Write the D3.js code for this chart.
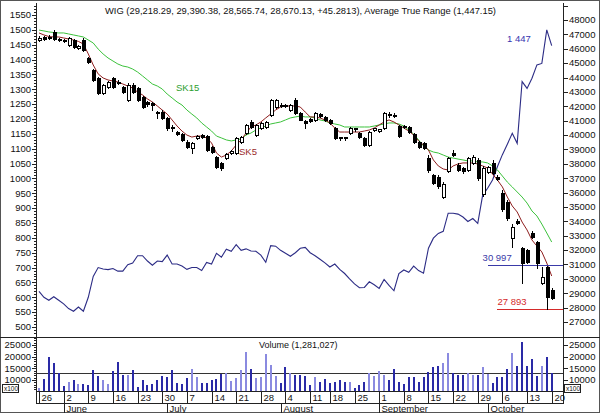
<!DOCTYPE html>
<html><head><meta charset="utf-8">
<script src="https://cdn.jsdelivr.net/npm/d3@7"></script>
<style>body{margin:0;background:#fff}svg{display:block}</style>
</head><body><svg id="c" width="600" height="413"></svg>
<script>
const titleText = "WIG (29,218.29, 29,390.38, 28,565.74, 28,670.13, +45.2813), Average True Range (1,447.15)";
const volumeTitle = "Volume (1,281,027)";
const startDate = [2008, 4, 26], endDate = [2008, 9, 20];
const holidays = ["2008-08-15"];
const monthNames = ["January","February","March","April","May","June","July","August","September","October","November","December"];

const open = [46610,46820,46850,47170,46710,46640,46260,46610,46050,46610, 45360,44520,43970,42920,43340,43970,43720,43340,42440,43480, 43270,42650,42300,42230,41600,41600,41190,40560,40210,40070, 39520,39100,39800,40000,39930,39170,38470,38060,38400,38750, 38750,39520,40140,40910,40000,40490,40560,41390,41950,42090, 42090,41740,42440,41530,40980,41120,41050,41460,41260,41050, 40490,39860,39860,40140,40460,40140,39800,39310,40350,40280, 40490,41460,41390,40630,40630,40560,40070,39520,39450,38400, 37220,37080,35690,37500,38750,37920,37710,37570,38060,38270, 35900,37430,38060,37080,35970,35340,32840,34020,32150,32010, 33190,32560,29710,30820,29218.29];
const high = [46890,46890,46960,47300,46750,46680,46820,46680,46260,46750, 45430,44590,44040,43550,43760,44040,43830,43410,43620,43620, 43340,42720,42370,42300,41670,41740,41260,40700,40280,40140, 39660,39520,40000,40070,40000,39240,38540,38130,38750,38960, 39860,39930,40770,41050,40770,40910,40980,42510,42510,42230, 42160,42160,42580,41600,41050,41190,41600,41530,41320,41120, 40560,39860,39860,40560,40490,40210,39860,40280,40490,40420, 41600,41600,41530,40700,40700,40630,40140,39590,39520,38610, 37290,37220,36740,38470,38960,38060,37780,38470,38610,38400, 37850,37850,38270,37220,36180,35480,33810,34160,32220,32080, 33330,32630,30820,30890,29390.38];
const low = [46540,46610,46680,46610,46540,46470,46190,46050,45980,45840, 45010,43760,42850,42850,43270,43270,43550,42920,42370,42920, 42370,41880,42020,41740,41190,41120,40350,40280,40000,39590, 39100,38750,39730,39800,38890,38750,37710,37570,38330,38680, 38680,39450,40070,40490,39930,40420,40490,41320,41880,41950, 41950,41670,41460,41050,40490,40910,40980,41260,40980,40770, 39730,39660,39660,40070,40280,39800,39240,39240,40280,40210, 40420,41260,41260,39860,40490,40140,39450,39100,39030,37430, 36600,36320,35620,37430,38540,37500,37360,37500,37990,36870, 35760,37360,37290,36870,34720,34090,32220,33810,29710,31100, 32840,30750,29640,27893,28565.74];
const close = [46750,46710,46780,46680,46640,46570,46750,46120,46190,45910, 45080,43830,42920,43480,43690,43340,43620,42990,43480,42990, 42440,41950,42160,42090,41530,41190,40490,40490,40070,39660, 39170,39450,39930,39860,38960,38820,37780,37710,38680,38890, 39800,39860,40700,40560,40700,40840,40910,42440,42440,42020, 42020,42090,41530,41080,40840,40980,41530,41320,41050,40840, 39800,39830,39830,40490,40390,39860,39310,40210,40460,40390, 41530,41390,41320,39930,40560,40210,39520,39170,39100,37570, 36670,36460,36600,38400,38610,37570,37500,38400,38470,37010, 37710,37780,37360,36940,34860,34230,33610,33880,31100,31170, 32910,31100,30130,28740,28670.13];
const sk15 = [47300,47240,47170,47130,47100,47100,47030,46960,46890,46820, 46610,46400,45980,45640,45360,45150,44940,44800,44730,44590, 44380,44110,43830,43550,43410,43200,42850,42580,42300,42090, 41740,41460,41190,40840,40560,40280,39930,39800,39660,39590, 39660,39730,40000,40140,40350,40490,40630,40770,40840,40910, 41050,41190,41260,41320,41260,41260,41190,41050,40980,40840, 40770,40700,40560,40560,40560,40560,40560,40560,40630,40700, 40770,40840,40840,40770,40630,40350,40070,39660,39240,38960, 38820,38750,38610,38470,38400,38330,38270,38200,38200,38130, 38130,38060,37850,37570,37150,36730,36390,36040,35690,35270, 34720,34370,33810,33190,32560];
const sk5 = [47100,46960,46850,46820,46820,46750,46680,46610,46510,46330, 45640,44870,44250,43970,43830,43760,43690,43550,43410,43270, 42990,42790,42510,42300,42020,41740,41460,41050,40630,40280, 40000,39860,39930,39930,39800,39450,38750,38470,38610,38890, 39310,39660,40140,40560,40700,40910,41190,41460,41740,41950, 42020,42020,42020,41950,41600,41260,41260,41190,41050,40840, 40490,40210,40210,40210,40210,40210,40280,40350,40490,40700, 40910,41050,40910,40700,40490,40280,40000,39590,39310,38960, 38270,37850,37640,37570,37850,37990,38060,38060,38060,37990, 37850,37710,37290,36870,36390,35690,35070,34650,33950,33400, 32700,32280,31870,31100,30200];
const atr = [620,600,590,602,590,578,562,553,567,553, 600,670,700,695,693,697,688,688,710,715, 740,740,722,708,722,720,742,712,712,705, 694,700,700,690,717,712,748,735,762,755, 777,758,763,756,755,742,718,774,772,758, 748,738,750,765,768,750,740,728,716,702, 712,694,680,662,645,632,633,652,642,630, 660,640,622,680,692,684,705,690,681,765, 799,815,822,883,883,880,870,855,865,849, 944,967,995,1040,1080,1115,1152,1118,1326,1303, 1337,1382,1387,1500,1447.15];
const volume = [6400,10300,20000,17100,13100,7600,9000,10000,8300,8300, 7900,14300,11900,10000,8300,13900,17900,12100,12100,14300, 7100,10000,7900,8300,10000,11700,11100,14300,8600,8300, 10700,14600,11400,8600,8600,10000,10300,12600,12900,9700, 10700,14300,22100,14600,11000,11100,21100,16400,11700,8900, 15700,12900,12100,12100,11700,7900,11400,9300,10300,8900, 9300,10000,9300,9300,6400,7900,9300,12900,11700,13900, 12100,10000,14600,9300,8300,11400,11400,9300,11400,13600, 15700,16000,17100,21400,12900,12100,12100,13100,12100,12100, 15700,12600,8600,11100,11100,14600,21400,16000,26400,16000, 18900,11700,16000,19700,12810];
const volumeAverage = 13100;
const levels = [{label: "30 997", value: 30997, from: 91, color: "#3a3aa8"}, {label: "27 893", value: 27893, from: 93, color: "#d42a2a"}];
const lastAtrLabel = "1 447";
const priceTicks = d3.range(27000, 48001, 1000);
const atrTicks = d3.range(500, 1551, 50);
const volTicks = [10000, 15000, 20000, 25000];

// ---- trading calendar
const days = [];
for (let d = new Date(Date.UTC(...startDate)); d <= new Date(Date.UTC(...endDate)); d.setUTCDate(d.getUTCDate() + 1)) {
  const wd = d.getUTCDay(), s = d.toISOString().slice(0, 10);
  if (wd > 0 && wd < 6 && !holidays.includes(s)) days.push(new Date(d));
}

const FONT = "'Liberation Sans', Arial, Helvetica, sans-serif";
const svg = d3.select("#c").attr("font-family", FONT);
const L = 36, R = 563, TOP = 3, MAINB = 337, VOLB = 391, AX2 = 403, BOT = 413;

const x = d3.scaleLinear().domain([0, days.length - 1]).range([39, 551.7]);
const yP = d3.scaleLinear().domain([27000, 48000]).range([322, 20]);
const yA = d3.scaleLinear().domain([500, 1550]).range([327, 15]);
const yV = d3.scaleLinear().domain([10000, 25000]).range([380, 345]);

svg.append("rect").attr("x", 0.5).attr("y", 0.5).attr("width", 599).attr("height", 412)
  .attr("fill", "#fff").attr("stroke", "#555");

const frame = svg.append("g").attr("stroke", "#222").attr("shape-rendering", "crispEdges");
function ln(g, x1, y1, x2, y2) { g.append("line").attr("x1", x1).attr("y1", y1).attr("x2", x2).attr("y2", y2); }
ln(frame, 0, MAINB + 0.5, 600, MAINB + 0.5);
ln(frame, L + 0.5, TOP, L + 0.5, AX2 + 0.5);
ln(frame, R + 0.5, TOP, R + 0.5, AX2 + 0.5);
ln(frame, L, VOLB + 0.5, R + 1, VOLB + 0.5);
ln(frame, L, AX2 + 0.5, R + 1, AX2 + 0.5);

// ---- left ATR axis
const la = svg.append("g").attr("stroke", "#222").attr("shape-rendering", "crispEdges");
d3.range(470, 1600, 10).forEach(v => {
  const y = Math.round(yA(v)) + 0.5;
  if (y < TOP + 1 || y > MAINB - 1) return;
  const major = v % 50 === 0;
  ln(la, major ? L - 4 : L - 2, y, L, y);
});
svg.append("g").selectAll("text").data(atrTicks).join("text")
  .attr("x", 31).attr("y", d => yA(d)).attr("dy", "0.35em").attr("text-anchor", "end")
  .attr("font-size", 9.5).attr("fill", "#111").text(d => d);

// ---- right price axis
const ra = svg.append("g").attr("stroke", "#222").attr("shape-rendering", "crispEdges");
d3.range(27000, 49001, 1000).forEach(v => {
  const y = Math.round(yP(v)) + 0.5;
  if (y < TOP || y > MAINB - 1) return;
  ln(ra, R, y, R + 5, y);
});
svg.append("g").selectAll("text").data(priceTicks).join("text")
  .attr("x", 569).attr("y", d => yP(d)).attr("dy", "0.35em")
  .attr("font-size", 9.5).attr("fill", "#111").text(d => d);

// ---- volume axes
const va = svg.append("g").attr("stroke", "#222").attr("shape-rendering", "crispEdges");
d3.range(6000, 28001, 1000).forEach(v => {
  const y = Math.round(yV(v)) + 0.5;
  if (y <= MAINB + 1 || y >= VOLB) return;
  const major = v % 5000 === 0;
  ln(va, major ? L - 4 : L - 2, y, L, y);
  if (major) ln(va, R, y, R + 5, y);
});
svg.append("g").selectAll("text").data(volTicks).join("text")
  .attr("x", 31).attr("y", d => yV(d)).attr("dy", "0.35em").attr("text-anchor", "end")
  .attr("font-size", 9.5).attr("fill", "#111").text(d => d);
svg.append("g").selectAll("text").data(volTicks).join("text")
  .attr("x", 569).attr("y", d => yV(d)).attr("dy", "0.35em")
  .attr("font-size", 9.5).attr("fill", "#111").text(d => d);
[[2, 384], [564, 384]].forEach(([bx, by]) => {
  svg.append("rect").attr("x", bx + 0.5).attr("y", by + 0.5).attr("width", 16).attr("height", 8)
    .attr("fill", "#fff").attr("stroke", "#222").attr("shape-rendering", "crispEdges");
  svg.append("text").attr("x", bx + 2).attr("y", by + 7).attr("font-size", 6.5).attr("fill", "#111").text("x100");
});

// ---- volume bars
svg.append("line").attr("x1", L).attr("x2", R).attr("y1", Math.round(yV(volumeAverage)) + 0.5)
  .attr("y2", Math.round(yV(volumeAverage)) + 0.5).attr("stroke", "#333").attr("shape-rendering", "crispEdges");
svg.append("g").attr("shape-rendering", "crispEdges").selectAll("rect").data(volume).join("rect")
  .attr("x", (d, i) => Math.round(x(i)) - 1).attr("width", 2)
  .attr("y", d => Math.round(yV(d))).attr("height", d => VOLB - Math.round(yV(d)))
  .attr("fill", (d, i) => close[i] >= open[i] ? "#8a8ae0" : "#2a2aa6");
svg.append("text").attr("x", 259).attr("y", 348).attr("font-size", 9).attr("fill", "#111").text(volumeTitle);

// ---- date axis
const dx = svg.append("g").attr("stroke", "#222").attr("shape-rendering", "crispEdges");
const dlab = svg.append("g").attr("font-size", 9.5).attr("fill", "#111");
days.forEach((d, i) => {
  const xi = Math.round(x(i)) + 0.5;
  if (d.getUTCDay() === 1) {
    ln(dx, xi, VOLB, xi, AX2);
    dlab.append("text").attr("x", xi + 2).attr("y", 401).text(d.getUTCDate());
  }
  if (i > 0 && d.getUTCMonth() !== days[i - 1].getUTCMonth()) {
    ln(dx, xi, AX2, xi, BOT);
    dlab.append("text").attr("x", xi + 2).attr("y", 412).text(monthNames[d.getUTCMonth()]);
  }
});

// ---- ATR line
svg.append("path").datum(atr).attr("fill", "none").attr("stroke", "#2c2c85").attr("stroke-width", 1.1)
  .attr("d", d3.line().x((d, i) => x(i)).y(d => yA(d)));
svg.append("text").attr("x", 507).attr("y", 42).attr("font-size", 9.5).attr("fill", "#3636b0").text(lastAtrLabel);

// ---- moving averages
svg.append("path").datum(sk15).attr("fill", "none").attr("stroke", "#3cc23c").attr("stroke-width", 1)
  .attr("d", d3.line().x((d, i) => x(i)).y(d => yP(d)));
svg.append("path").datum(sk5).attr("fill", "none").attr("stroke", "#8e1e1e").attr("stroke-width", 1)
  .attr("d", d3.line().x((d, i) => x(i)).y(d => yP(d)));
svg.append("text").attr("x", 176).attr("y", 91).attr("font-size", 9.5).attr("fill", "#2e9e2e").text("SK15");
svg.append("text").attr("x", 239).attr("y", 155).attr("font-size", 9.5).attr("fill", "#9a2a2a").text("SK5");

// ---- level lines
levels.forEach((lv, k) => {
  const y = Math.round(yP(lv.value)) + 0.5;
  svg.append("line").attr("x1", x(lv.from)).attr("x2", R).attr("y1", y).attr("y2", y)
    .attr("stroke", lv.color).attr("stroke-width", 1).attr("shape-rendering", "crispEdges");
  svg.append("text").attr("x", x(lv.from) + (k === 0 ? -5 : 0)).attr("y", y - 5)
    .attr("font-size", 9.5).attr("fill", lv.color).text(lv.label);
});

// ---- candles
const cg = svg.append("g").attr("shape-rendering", "crispEdges");
days.forEach((d, i) => {
  const cx = Math.round(x(i));
  const up = close[i] >= open[i];
  cg.append("line").attr("x1", cx + 0.5).attr("x2", cx + 0.5)
    .attr("y1", Math.round(yP(high[i]))).attr("y2", Math.round(yP(low[i])) + 1).attr("stroke", "#000");
  const yt = Math.round(yP(Math.max(open[i], close[i])));
  const yb = Math.round(yP(Math.min(open[i], close[i])));
  cg.append("rect").attr("x", cx - 1 + 0.5).attr("y", yt + 0.5).attr("width", 3).attr("height", Math.max(1, yb - yt))
    .attr("fill", up ? "#fff" : "#000").attr("stroke", "#000");
});

// ---- title
svg.append("text").attr("x", 105).attr("y", 14).attr("font-size", 9.4).attr("fill", "#111").text(titleText);
</script></body></html>
